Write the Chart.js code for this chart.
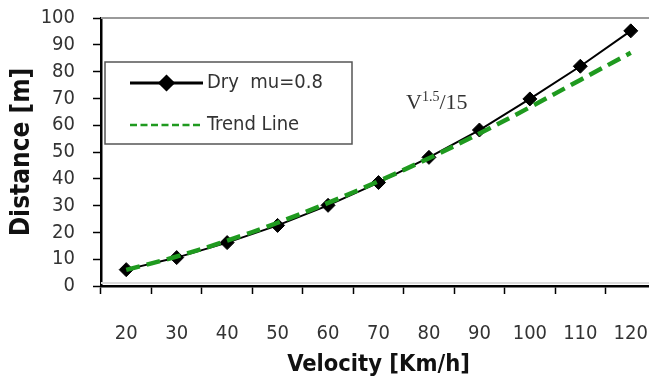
<!DOCTYPE html>
<html>
<head>
<meta charset="utf-8">
<script src="https://cdn.jsdelivr.net/npm/chart.js"></script>
<style>
  html, body { margin: 0; padding: 0; background: #fff; overflow: hidden; }
  #wrap { width: 664px; height: 383px; position: relative; }
</style>
</head>
<body>
<div id="wrap"><canvas id="stopChart"></canvas></div>
<script>
// stopping distance vs speed
const speeds = ['20', '30', '40', '50', '60', '70', '80', '90', '100', '110', '120'];
const dryDistance = [6.1, 10.6, 16.2, 22.6, 30.1, 38.6, 48.0, 58.2, 69.8, 82.0, 95.2];
const trendDistance = [6.0, 11.0, 16.9, 23.6, 31.0, 39.1, 47.7, 56.9, 66.7, 76.9, 87.0];
const yTicks = [0, 10, 20, 30, 40, 50, 60, 70, 80, 90, 100];

const tickFont = { family: 'DejaVu Sans Condensed', size: 20 };

// frame, legend box and the formula note
const extras = {
    id: 'extras',
    beforeDatasetsDraw(chart) {
        const { ctx, chartArea: a } = chart;
        ctx.save();
        ctx.strokeStyle = '#9a9a9a';
        ctx.lineWidth = 2;
        ctx.beginPath();
        ctx.moveTo(a.left, a.top);
        ctx.lineTo(a.right, a.top);
        ctx.stroke();
        ctx.strokeStyle = '#dcdcdc';
        ctx.lineWidth = 2;
        ctx.beginPath();
        ctx.moveTo(a.left, a.bottom - 3);
        ctx.lineTo(a.right, a.bottom - 3);
        ctx.stroke();
        ctx.restore();
    },
    afterDraw(chart) {
        const { ctx, chartArea: a } = chart;
        const ds = chart.data.datasets;
        ctx.save();

        // legend
        const bx = a.left + 4, by = a.top + 44, bw = 247, bh = 82;
        ctx.fillStyle = '#fff';
        ctx.fillRect(bx, by, bw, bh);
        ctx.strokeStyle = '#555';
        ctx.lineWidth = 1.5;
        ctx.strokeRect(bx, by, bw, bh);

        const x0 = bx + 25, x1 = bx + 98;
        const rows = [by + 21, by + 63];

        const dry = ds[1];
        ctx.strokeStyle = dry.borderColor;
        ctx.lineWidth = 3;
        ctx.beginPath();
        ctx.moveTo(x0, rows[0]);
        ctx.lineTo(x1, rows[0]);
        ctx.stroke();
        Chart.helpers.drawPoint(ctx, {
            pointStyle: 'rectRot', radius: 6.5, borderWidth: 1
        }, (x0 + x1) / 2, rows[0]);
        ctx.fillStyle = '#000';
        ctx.fill();

        const trend = ds[0];
        ctx.strokeStyle = trend.borderColor;
        ctx.lineWidth = 2.5;
        ctx.setLineDash([7, 3.5]);
        ctx.beginPath();
        ctx.moveTo(x0, rows[1]);
        ctx.lineTo(x1, rows[1]);
        ctx.stroke();
        ctx.setLineDash([]);

        ctx.fillStyle = '#333';
        ctx.font = '20px "DejaVu Sans Condensed"';
        ctx.textBaseline = 'middle';
        ctx.textAlign = 'left';
        ctx.fillText(dry.label, x1 + 4, rows[0]);
        ctx.fillText(trend.label, x1 + 4, rows[1]);

        // formula note
        const nx = a.left + 305, ny = a.top + 91;
        ctx.fillStyle = '#333';
        ctx.textBaseline = 'alphabetic';
        ctx.font = '22px "Liberation Serif"';
        ctx.fillText('V', nx, ny);
        let w = ctx.measureText('V').width;
        ctx.font = '14px "Liberation Serif"';
        ctx.fillText('1.5', nx + w, ny - 8);
        w += ctx.measureText('1.5').width;
        ctx.font = '22px "Liberation Serif"';
        ctx.fillText('/15', nx + w, ny);

        ctx.restore();
    }
};

new Chart(document.getElementById('stopChart'), {
    type: 'line',
    data: {
        labels: speeds,
        datasets: [{
            label: 'Trend Line',
            data: trendDistance,
            borderColor: '#1f9a1f',
            borderWidth: 4.5,
            borderDash: [14, 7],
            pointRadius: 0,
            tension: 0.4,
            order: 0
        }, {
            label: 'Dry  mu=0.8',
            data: dryDistance,
            borderColor: '#000',
            backgroundColor: '#000',
            borderWidth: 2,
            pointStyle: 'rectRot',
            pointRadius: 7,
            pointBorderWidth: 1,
            tension: 0,
            order: 1
        }]
    },
    options: {
        responsive: true,
        maintainAspectRatio: false,
        animation: false,
        events: [],
        layout: { padding: { top: 18, right: 5, left: 0, bottom: 0 } },
        plugins: {
            legend: { display: false },
            tooltip: { enabled: false }
        },
        scales: {
            x: {
                type: 'category',
                offset: true,
                grid: {
                    offset: true,
                    drawOnChartArea: false,
                    tickLength: 8,
                    tickColor: '#000',
                    tickWidth: 1.5
                },
                border: { color: '#000', width: 2.5 },
                ticks: { color: '#333', font: tickFont, padding: 28, maxRotation: 0, autoSkip: false },
                title: {
                    display: true,
                    text: 'Velocity [Km/h]',
                    color: '#111',
                    font: { family: 'DejaVu Sans Condensed', size: 23.5, weight: 'bold' },
                    padding: { top: 0, bottom: 4 }
                },
                afterFit: (s) => {
                    s.height = 97;
                    s.paddingLeft = 0;
                    s.paddingRight = 0;
                }
            },
            y: {
                min: 0,
                max: 100,
                afterBuildTicks: (s) => { s.ticks = yTicks.map(v => ({ value: v })); },
                grid: {
                    drawOnChartArea: false,
                    tickLength: 8,
                    tickColor: '#000',
                    tickWidth: 1.5
                },
                border: { color: '#000', width: 2.5 },
                ticks: { color: '#333', font: tickFont, padding: 18, autoSkip: false },
                title: {
                    display: true,
                    text: 'Distance [m]',
                    color: '#111',
                    font: { family: 'DejaVu Sans Condensed', size: 26, weight: 'bold' },
                    padding: { top: 7, bottom: 0 }
                },
                afterFit: (s) => {
                    s.width = 101;
                    s.paddingTop = 0;
                    s.paddingBottom = 0;
                }
            }
        }
    },
    plugins: [extras]
});
</script>
</body>
</html>
